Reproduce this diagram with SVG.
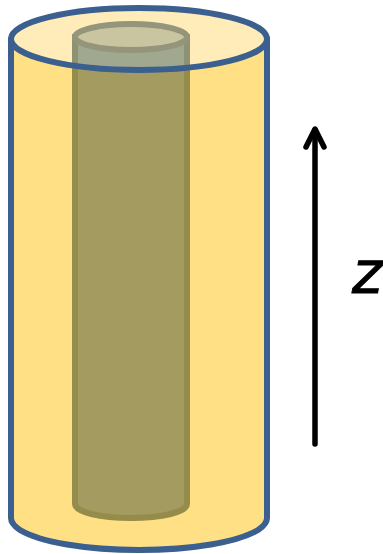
<svg xmlns="http://www.w3.org/2000/svg" width="383" height="554" viewBox="0 0 383 554">
<style>
.o{stroke:#3B5F8F;stroke-width:6;stroke-linejoin:round}
.i{stroke:#958B4A;stroke-width:6;stroke-linejoin:round}
.a{fill:none;stroke:#000;stroke-width:5.5;stroke-linecap:round;stroke-linejoin:round}
</style>
<defs>
<clipPath id="topClip"><ellipse cx="139" cy="39" rx="128" ry="31"/></clipPath>
</defs>
<g id="outer-cylinder">
<path class="o" fill="#FFE084" d="M11 39V518C11 522 14 526 20 530C40 542 86 550 139 550S238 542 258 530C264 526 267 522 267 518V39Z"/>
<ellipse cx="139" cy="39" rx="128" ry="31" fill="#FFECB8"/>
</g>
<g id="inner-cylinder">
<path class="i" fill="#A39B60" d="M75 37V504C75 512 100 518 131 518S187 512 187 504V37Z"/>
<g clip-path="url(#topClip)">
<path fill="#A0A890" stroke="#8F9272" stroke-width="6" d="M75 37V504C75 512 100 518 131 518S187 512 187 504V37Z"/>
</g>
<ellipse cx="131" cy="37" rx="56" ry="13" fill="#C9C5A0" stroke="#94957A" stroke-width="6"/>
</g>
<g id="outer-rim">
<ellipse class="o" cx="139" cy="39" rx="128" ry="31" fill="none"/>
</g>
<g id="connectors">
<path class="a" d="M315 444V130"/>
<path class="a" d="M306 147L315 129L324 147"/>
</g>
<g id="axis-label">
<text x="352" y="293" font-family="DejaVu Sans, sans-serif" font-style="italic" font-size="58" fill="#000" stroke="#000" stroke-width="1">z</text>
</g>
</svg>
